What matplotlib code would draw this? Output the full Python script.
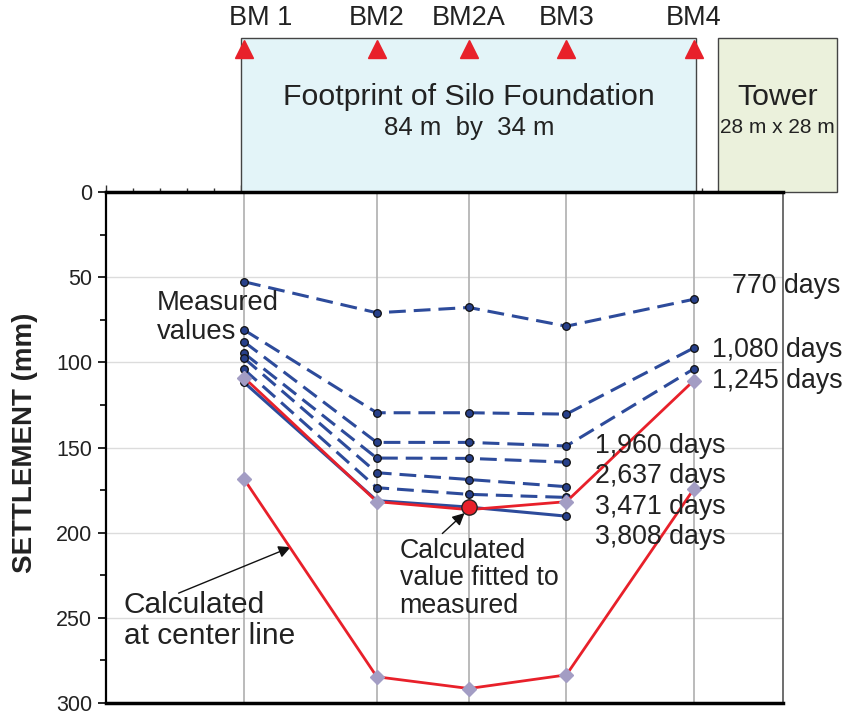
import matplotlib.pyplot as plt
from matplotlib.patches import Rectangle
from matplotlib.ticker import MultipleLocator

plt.rcParams['font.family'] = ['Liberation Sans', 'DejaVu Sans']

# benchmark positions along the foundation (m) and their names
bm_x = [0.5, 25, 42, 60, 83.5]
bm_names = ['BM 1', 'BM2', 'BM2A', 'BM3', 'BM4']

# measured settlements (mm)
days = ['770 days', '1,080 days', '1,245 days', '1,960 days',
        '2,637 days', '3,471 days', '3,808 days']
measured = [
    [52.7, 70.9, 67.8, 78.8, 63.0],
    [81.0, 129.6, 129.6, 130.4, 91.6],
    [88.0, 147.0, 147.0, 149.1, 103.9],
    [94.7, 156.2, 156.4, 158.6],
    [97.6, 164.8, 168.8, 173.0],
    [104.2, 173.6, 177.5, 179.3],
    [111.8, 181.2, 185.0, 190.3],
]
# calculated values
fitted = [109.0, 181.8, 186.5, 181.8, 110.8]
fitted_bm2a = 185.2
center_line = [168.6, 284.6, 291.5, 283.5, 174.5]

# label positions for the day counts (x m, y mm)
day_lbl_x = [90.5, 86.8, 86.8, 65.3, 65.3, 65.3, 65.3]
day_lbl_y = [55.2, 92.8, 111.0, 149.2, 166.8, 185.0, 202.6]

blue = '#2d4b9b'
red = '#e8202a'
diam = '#a39dc4'
txt = '#222222'

fig = plt.figure(figsize=(8.46, 7.15), dpi=100)
ax = fig.add_axes([106/846, 1-703/715, (783-106)/846, (703-192)/715])
ax.set_xlim(-25, 100)
ax.set_ylim(300, 0)

# axes styling
ax.xaxis.set_ticks_position('top')
ax.xaxis.set_major_locator(MultipleLocator(25))
ax.xaxis.set_minor_locator(MultipleLocator(5))
ax.tick_params(axis='x', which='both', labeltop=False, labelbottom=False,
               direction='out', color='#333333')
ax.tick_params(axis='x', which='major', length=5, width=1)
ax.tick_params(axis='x', which='minor', length=3, width=1)
ax.yaxis.set_major_locator(MultipleLocator(50))
ax.yaxis.set_minor_locator(MultipleLocator(25))
ax.tick_params(axis='y', which='major', length=6, width=1.2, labelsize=15.5,
               pad=4, labelcolor=txt)
ax.tick_params(axis='y', which='minor', length=4, width=1.2)
for s in ['top', 'bottom']:
    ax.spines[s].set_linewidth(2.5)
ax.spines['left'].set_linewidth(1.6)
ax.spines['right'].set_linewidth(1.2)
ax.spines['right'].set_color('#555555')
ax.yaxis.grid(True, color='#dcdcdc', lw=1)
ax.set_axisbelow(True)
for x in bm_x:
    ax.axvline(x, color='#b5b5b5', lw=1.3, zorder=1)

ax.set_ylabel('SETTLEMENT (mm)', fontsize=20, fontweight='bold', color=txt)
ax.yaxis.set_label_coords(-0.1, 0.51)

# measured lines
for i, vals in enumerate(measured):
    xs = bm_x[:len(vals)]
    if i == len(measured) - 1:
        ax.plot(xs, vals, color=blue, lw=2.2, zorder=3,
                marker='o', ms=5.5, mfc='#27408a', mec='#111111', mew=0.9)
    else:
        ax.plot(xs, vals, color=blue, lw=2.2, dashes=(5.5, 2.6), zorder=3,
                marker='o', ms=5.5, mfc='#27408a', mec='#111111', mew=0.9)
    ax.text(day_lbl_x[i], day_lbl_y[i], days[i], fontsize=19.3, color=txt,
            ha='left', va='center', zorder=6)

# calculated lines
ax.plot(bm_x, fitted, color=red, lw=2, zorder=4)
idx = [0, 1, 3, 4]
ax.plot([bm_x[j] for j in idx], [fitted[j] for j in idx], ls='none',
        marker='D', ms=7, color=diam, zorder=5)
ax.plot([bm_x[2]], [fitted_bm2a], ls='none', marker='o', ms=11,
        mfc=red, mec='#222222', mew=1, zorder=5)
ax.plot(bm_x, center_line, color=red, lw=2, zorder=4,
        marker='D', ms=7, mfc=diam, mec=diam)

# annotations
ax.text(-15.6, 73.7, 'Measured\nvalues', fontsize=19.8, color=txt,
        ha='left', va='center', linespacing=1.12)
ax.text(-21.7, 251.6, 'Calculated\nat center line', fontsize=21.5, color=txt,
        ha='left', va='center', linespacing=1.1)
ax.text(29.2, 226.7, 'Calculated\nvalue fitted to\nmeasured', fontsize=19.3,
        color=txt, ha='left', va='center', linespacing=1.08)
ax.annotate('', xy=(9.1, 208.5), xytext=(-11.6, 235.5),
            arrowprops=dict(arrowstyle='-|>', color='#111111', lw=1,
                            mutation_scale=18, shrinkA=0, shrinkB=0))
ax.annotate('', xy=(41.2, 188.5), xytext=(37.1, 200.5),
            arrowprops=dict(arrowstyle='-|>', color='#111111', lw=1,
                            mutation_scale=18, shrinkA=0, shrinkB=0))

# footprint and tower boxes above the plot
ax.add_patch(Rectangle((0, -90.4), 84, 90.4, facecolor='#e3f4f8',
                       edgecolor='#444444', lw=1, clip_on=False, zorder=2))
ax.add_patch(Rectangle((88, -90.4), 22, 90.4, facecolor='#ebf1dc',
                       edgecolor='#444444', lw=1, clip_on=False, zorder=2))
ax.plot(bm_x, [-84] * len(bm_x), ls='none', marker='^', ms=13, color=red,
        clip_on=False, zorder=3)
for j, name in enumerate(bm_names):
    dx = 3 if j == 0 else 0
    ax.text(bm_x[j] + dx, -102, name, fontsize=19.5, color=txt,
            ha='center', va='center')
ax.text(42, -55.8, 'Footprint of Silo Foundation', fontsize=21.8, color=txt,
        ha='center', va='center')
ax.text(42, -37.6, '84 m  by  34 m', fontsize=18.5, color=txt,
        ha='center', va='center')
ax.text(99, -55.8, 'Tower', fontsize=21.8, color=txt, ha='center', va='center')
ax.text(99, -37.6, '28 m x 28 m', fontsize=15, color=txt,
        ha='center', va='center')

fig.savefig('out.png', dpi=100)
